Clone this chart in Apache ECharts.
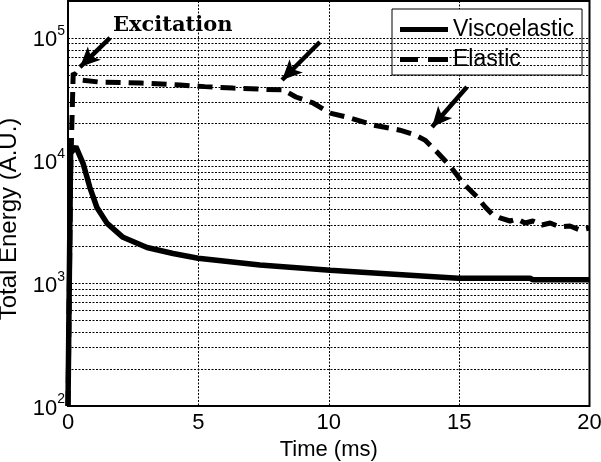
<!DOCTYPE html>
<html><head><meta charset="utf-8">
<script src="https://cdn.jsdelivr.net/npm/echarts@6/dist/echarts.min.js"></script>
<style>html,body{margin:0;padding:0;background:#fff}#c{width:601px;height:462px}</style>
</head><body><div id="c"></div>
<script>
// Viscoelastic series (time in ms, energy in A.U.)
const timeVisco   = [0, 0.1, 0.3, 0.58, 0.84, 1.11, 1.5, 2.11, 3.03, 4.03, 4.99, 7.36, 10.05, 14.96, 17.72, 17.83, 20];
const energyVisco = [100, 11500, 13000, 9460, 6030, 4150, 3080, 2370, 1960, 1750, 1600, 1410, 1275, 1100, 1100, 1070, 1070];
// Elastic series
const timeElastic   = [0, 0.1, 0.2, 0.53, 1.2, 2.8, 4.3, 5.25, 6.33, 7.55, 8.25, 8.74, 9.4, 10.05, 10.81, 11.7, 12.73, 13.31, 13.69, 14.15, 14.65, 15.15, 15.69, 16.0, 16.26, 16.57, 16.95, 17.22, 17.53, 17.83, 18.18, 18.49, 18.87, 19.25, 19.64, 20];
const energyElastic = [100, 8000, 51700, 45300, 43700, 42900, 41300, 40100, 39000, 38100, 37800, 33000, 29500, 24400, 22300, 19500, 17700, 16200, 14700, 11750, 9040, 6570, 5050, 4190, 3670, 3410, 3220, 3350, 3100, 3220, 2990, 3100, 2880, 2930, 2720, 2820];
// Log grid lines (major + minor)
const gridValues = [200,300,400,500,600,700,800,900,1000,2000,3000,4000,5000,6000,7000,8000,9000,10000,20000,30000,40000,50000,60000,70000,80000,90000,100000];
// Annotation arrows: [tailTime, tailEnergy, tipTime, tipEnergy]
const arrows = [
  [1.61, 100000, 0.46, 57900],
  [9.66, 92700, 8.21, 45400],
  [15.30, 39800, 13.96, 18800]
];
const xTicks = [0, 5, 10, 15, 20];
const yMajor = [100, 1000, 10000, 100000];

const FONT = '"Liberation Sans", Arial, sans-serif';
const zip = (a, b) => a.map((v, i) => [v, b[i]]);
const chart = echarts.init(document.getElementById('c'), null, {renderer: 'canvas'});
const dotted = {type: [2, 1.5], color: '#000', width: 1};

chart.setOption({
  animation: false,
  backgroundColor: '#fff',
  grid: {left: 68, right: 11.5, top: 1, bottom: 56, show: true, borderColor: '#000', borderWidth: 2,
         backgroundColor: 'transparent', containLabel: false, outerBoundsMode: 'none'},
  xAxis: {
    type: 'value', min: 0, max: 20, interval: 5,
    name: 'Time (ms)', nameLocation: 'middle', nameGap: 32,
    nameTextStyle: {fontSize: 22, color: '#000', fontFamily: FONT},
    axisLine: {show: false}, axisTick: {show: false},
    axisLabel: {fontSize: 22, color: '#000', fontFamily: FONT, margin: 6,
      formatter: v => xTicks.includes(v) ? String(v) : ''},
    splitLine: {show: true, lineStyle: dotted}
  },
  yAxis: {
    type: 'log', logBase: 10, min: 100, max: 200000,
    name: 'Total Energy (A.U.)', nameLocation: 'middle', nameGap: 46,
    nameTextStyle: {fontSize: 24, color: '#000', fontFamily: FONT, padding: [0, 31, 0, 0]},
    axisLine: {show: false}, axisTick: {show: false},
    splitLine: {show: false},
    axisLabel: {
      margin: 3, color: '#000', fontFamily: FONT,
      formatter: v => {
        const e = Math.log10(v);
        const r = Math.round(e);
        if (Math.abs(e - r) > 1e-6 || !yMajor.includes(Math.pow(10, r))) return '';
        return '{b|10}{s|' + r + '}';
      },
      rich: {
        b: {fontSize: 22, fontFamily: FONT, color: '#000', lineHeight: 27, verticalAlign: 'bottom'},
        s: {fontSize: 14, fontFamily: FONT, color: '#000', lineHeight: 27, verticalAlign: 'top'}
      }
    }
  },
  legend: {
    data: [
      {name: 'Viscoelastic', icon: 'path://M0,0H48V5H0Z'},
      {name: 'Elastic', icon: 'path://M0,0H18V5H0Z M28,0H48V5H28Z'}
    ],
    orient: 'vertical', left: 392, top: 9,
    itemWidth: 48, itemHeight: 5, itemGap: 7, padding: [9, 8, 4, 8],
    borderColor: '#000', borderWidth: 1, backgroundColor: '#fff', borderRadius: 0,
    textStyle: {fontSize: 23, lineHeight: 22, color: '#000', fontFamily: FONT},
    itemStyle: {color: '#000'},
    selectedMode: false
  },
  graphic: [{
    type: 'text', left: 113, top: 15, z: 100,
    style: {text: 'Excitation', font: 'bold 21px "DejaVu Serif", serif', fill: '#000'}
  }],
  series: [
    {
      name: 'gridlines', type: 'line', data: [], z: 1, silent: true,
      markLine: {
        silent: true, symbol: ['none', 'none'], label: {show: false},
        lineStyle: dotted, animation: false,
        data: gridValues.map(v => ({yAxis: v}))
      }
    },
    {
      name: 'Viscoelastic', type: 'line', data: zip(timeVisco, energyVisco),
      symbol: 'none', z: 3, clip: true,
      lineStyle: {color: '#000', width: 5.5, type: 'solid'},
      itemStyle: {color: '#000'}
    },
    {
      name: 'Elastic', type: 'line', data: zip(timeElastic, energyElastic),
      symbol: 'none', z: 4, clip: true,
      lineStyle: {color: '#000', width: 5, type: [15, 8]},
      itemStyle: {color: '#000'}
    },
    {
      name: 'arrows', type: 'line', data: [], z: 5, silent: true,
      markLine: {
        silent: true, symbol: ['none', 'arrow'], symbolSize: [14, 20],
        label: {show: false}, animation: false,
        lineStyle: {color: '#000', width: 4.5, type: 'solid'},
        itemStyle: {color: '#000'},
        data: arrows.map(a => [{coord: [a[0], a[1]]}, {coord: [a[2], a[3]]}])
      }
    }
  ]
});
</script></body></html>
